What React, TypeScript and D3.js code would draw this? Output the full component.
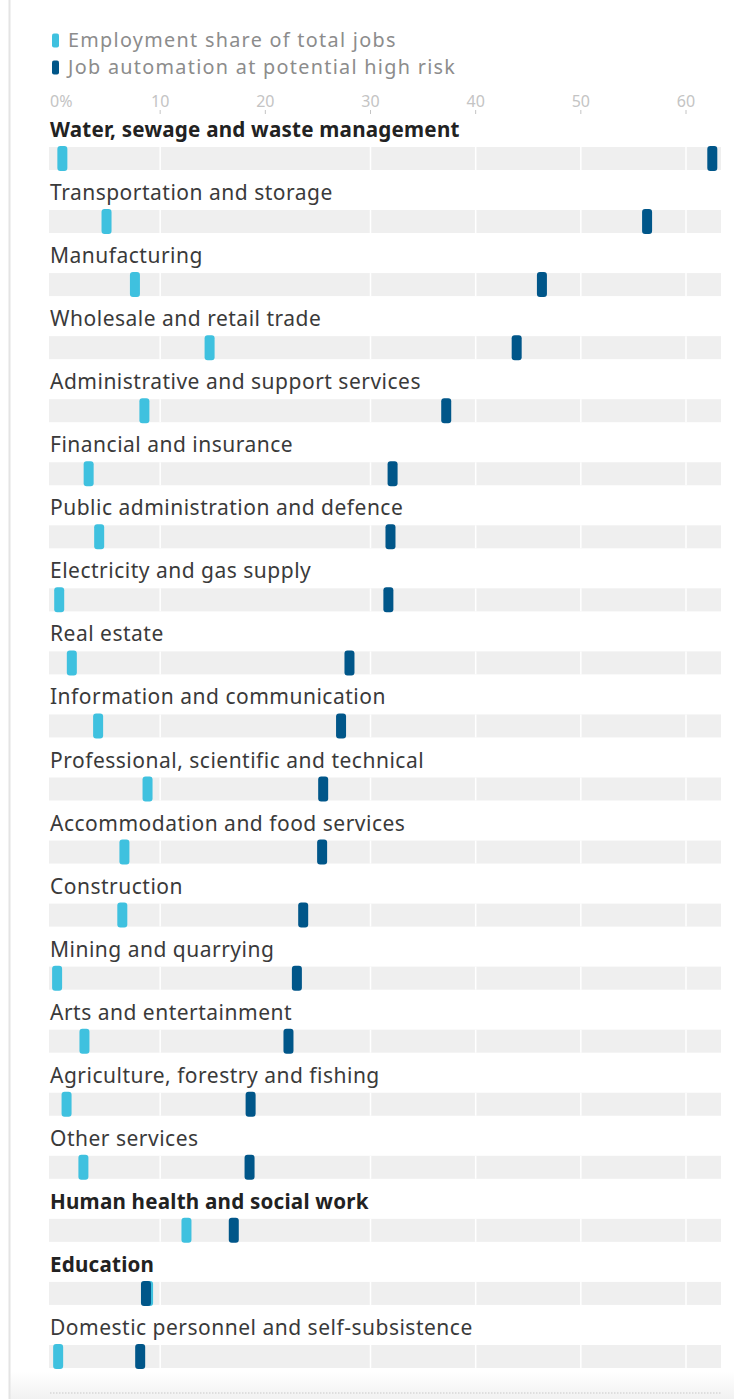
import React from 'react';
import * as d3 from 'd3';

const sectors = [
  'Water, sewage and waste management',
  'Transportation and storage',
  'Manufacturing',
  'Wholesale and retail trade',
  'Administrative and support services',
  'Financial and insurance',
  'Public administration and defence',
  'Electricity and gas supply',
  'Real estate',
  'Information and communication',
  'Professional, scientific and technical',
  'Accommodation and food services',
  'Construction',
  'Mining and quarrying',
  'Arts and entertainment',
  'Agriculture, forestry and fishing',
  'Other services',
  'Human health and social work',
  'Education',
  'Domestic personnel and self-subsistence',
];

// % of total jobs
const employmentShare = [0.7, 4.9, 7.6, 14.7, 8.5, 3.2, 4.2, 0.4, 1.6, 4.1, 8.8, 6.6, 6.4, 0.2, 2.8, 1.1, 2.7, 12.5, 8.85, 0.3];
// % of jobs at potential high risk of automation
const automationRisk = [62.5, 56.3, 46.3, 43.9, 37.2, 32.1, 31.9, 31.7, 28.0, 27.2, 25.5, 25.4, 23.6, 23.0, 22.2, 18.6, 18.5, 17.0, 8.65, 8.1];

const boldSectors = ['Water, sewage and waste management', 'Human health and social work', 'Education'];
const ticks = [0, 10, 20, 30, 40, 50, 60];
const gridTicks = [10, 30, 40, 50, 60];

const legendItems = [
  { label: 'Employment share of total jobs', color: '#3fc1df' },
  { label: 'Job automation at potential high risk', color: '#005689' },
];

const FONT = '"Noto Sans", sans-serif';

export default function App() {
  const width = 734;
  const height = 1399;

  const x = d3.scaleLinear().domain([0, 60]).range([55, 686]);
  const y = d3.scaleBand<string>()
    .domain(sectors)
    .range([116, 116 + 63.05 * sectors.length])
    .padding(0);

  const bandLeft = 49;
  const bandRight = 721;
  const markW = 10;
  const markH = 25;

  return (
    <svg width={width} height={height} style={{ position: 'absolute', left: 0, top: 0 }} fontFamily={FONT}>
      <defs>
        <linearGradient id="shade" x1="0" y1="0" x2="0" y2="1">
          <stop offset="0" stopColor="#ffffff" />
          <stop offset="1" stopColor="#f1f1f1" />
        </linearGradient>
      </defs>
      <rect width={width} height={height} fill="#fff" />
      <rect x={9} y={1372} width={width - 9} height={27} fill="url(#shade)" />
      <line x1={9.5} x2={9.5} y1={0} y2={height} stroke="#e4e4e4" strokeWidth={2} />

      {/* legend */}
      {legendItems.map((d, i) => (
        <g key={d.label} transform={`translate(52, ${40.5 + i * 27})`}>
          <rect x={0} y={-7} width={7} height={14} rx={2} fill={d.color} />
          <text x={16} y={6.5} fontSize={19.8} fill="#8c8c8c" letterSpacing={1.3}>{d.label}</text>
        </g>
      ))}

      {/* axis */}
      {ticks.map(t => (
        <g key={t} transform={`translate(${x(t)}, 0)`}>
          <text x={t === 0 ? -5 : 0} y={107} fontSize={16} fill="#c4c4c4"
            textAnchor={t === 0 ? 'start' : 'middle'}>{t === 0 ? '0%' : t}</text>
          {t > 0 && <line x1={0} x2={0} y1={110} y2={114} stroke="#c4c4c4" />}
        </g>
      ))}

      {sectors.map((s, i) => {
        const top = y(s)!;
        const bold = boldSectors.includes(s);
        return (
          <g key={s}>
            <text x={50} y={top + 21} fontSize={bold ? 20.6 : 21} fontWeight={bold ? 700 : 400}
              fill={bold ? '#222' : '#3a3a3a'} letterSpacing={bold ? 0.22 : 0.5}>{s}</text>
            <rect x={bandLeft} y={top + 31} width={bandRight - bandLeft} height={23} fill="#efefef" />
            {gridTicks.map(t => (
              <line key={t} x1={x(t)} x2={x(t)} y1={top + 31} y2={top + 54} stroke="#fff" strokeWidth={1.5} />
            ))}
            <rect x={x(employmentShare[i]) - markW / 2} y={top + 30} width={markW} height={markH} rx={3}
              fill={legendItems[0].color} />
            <rect x={x(automationRisk[i]) - markW / 2} y={top + 30} width={markW} height={markH} rx={3}
              fill={legendItems[1].color} />
          </g>
        );
      })}

      <line x1={50} x2={721} y1={1393} y2={1393} stroke="#c8c8c8" strokeDasharray="1.5,1.5" />
    </svg>
  );
}
